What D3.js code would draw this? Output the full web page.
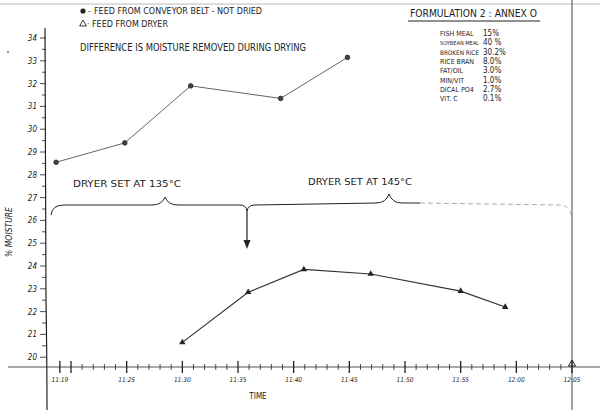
<!DOCTYPE html>
<html><head><meta charset="utf-8">
<script src="https://cdn.jsdelivr.net/npm/d3@7"></script>
<style>
html,body{margin:0;padding:0;background:#fff;}
svg text{font-family:"DejaVu Sans Condensed","DejaVu Sans",sans-serif;fill:#222;}
</style></head>
<body>
<svg id="c" width="600" height="410"></svg>
<script>
// ---- data ----
const timeTickLabels = ["11:19","11:25","11:30","11:35","11:40","11:45","11:50","11:55","12:00","12:05"];
const yTickValues = [20,21,22,23,24,25,26,27,28,29,30,31,32,33,34];
const conveyorTimes = ["11:18:40","11:24:50","11:30:45","11:38:50","11:44:50"];
const conveyorMoisture = [28.55, 29.4, 31.9, 31.35, 33.15];
const dryerTimes = ["11:30:00","11:35:55","11:40:55","11:46:55","11:55:00","11:59:00"];
const dryerMoisture = [20.65, 22.85, 23.85, 23.65, 22.9, 22.2];
const formulaNames = ["FISH MEAL","SOYBEAN MEAL","BROKEN RICE","RICE BRAN","FAT/OIL","MIN/VIT","DICAL PO4","VIT. C"];
const formulaValues = ["15%","40 %","30.2%","8.0%","3.0%","1.0%","2.7%","0.1%"];
const legendLabels = ["FEED FROM CONVEYOR BELT - NOT DRIED","FEED FROM DRYER"];

// ---- scales ----
const parseT = d3.timeParse("%H:%M:%S");
const parseHM = d3.timeParse("%H:%M");
const x = d3.scaleTime().domain([parseHM("11:20"), parseHM("12:05")]).range([71, 572]);
const y = d3.scaleLinear().domain([20, 34]).range([357.2, 38]);
const svg = d3.select("#c");
const ink = "#222";

// scan edge at top
svg.append("line").attr("x1",0).attr("x2",600).attr("y1",4).attr("y2",4)
  .attr("stroke","#bbb").attr("stroke-width",1);
svg.append("circle").attr("cx",8).attr("cy",52).attr("r",0.9).attr("fill","#555");

// right vertical line at 12:05
svg.append("line").attr("x1",x(parseHM("12:05"))).attr("x2",x(parseHM("12:05")))
  .attr("y1",0).attr("y2",410).attr("stroke","#444").attr("stroke-width",1);

// x axis line
const axisY = 367;
svg.append("line").attr("x1",8).attr("x2",600).attr("y1",axisY).attr("y2",axisY)
  .attr("stroke","#555").attr("stroke-width",1);
const isMajor = d => d.getMinutes()%5===0 || d.getMinutes()===19;
const minutes = d3.timeMinute.range(parseHM("11:19"), parseHM("12:06"));
svg.selectAll("line.mt").data(minutes).join("line").attr("class","mt")
  .attr("x1",d=>x(d)).attr("x2",d=>x(d))
  .attr("y1",d=>isMajor(d)?361:364)
  .attr("y2",d=>isMajor(d)?373:370)
  .attr("stroke",ink).attr("stroke-width",d=>isMajor(d)?1.3:0.8);
svg.selectAll("text.xl").data(timeTickLabels).join("text").attr("class","xl")
  .attr("x",d=>x(parseHM(d))).attr("y",382).attr("text-anchor","middle")
  .attr("font-size",6.5).attr("font-style","italic").text(d=>d);
svg.append("path").attr("d",d3.symbol(d3.symbolTriangle,22)())
  .attr("transform",`translate(${x(parseHM("12:05"))},${axisY-3})`)
  .attr("fill","none").attr("stroke",ink).attr("stroke-width",1);

// y axis
svg.append("path").attr("d","M45,28 Q46,200 46,300 Q47,360 47,410")
  .attr("fill","none").attr("stroke",ink).attr("stroke-width",1.2);
const halfTicks = d3.range(20, 34.01, 0.5);
svg.selectAll("line.yt").data(halfTicks).join("line").attr("class","yt")
  .attr("x1",d=>Number.isInteger(d)?40:42).attr("x2",46)
  .attr("y1",d=>y(d)).attr("y2",d=>y(d)).attr("stroke",ink).attr("stroke-width",0.8);
svg.selectAll("text.yl").data(yTickValues).join("text").attr("class","yl")
  .attr("x",37).attr("y",d=>y(d)+3).attr("text-anchor","end")
  .attr("font-size",8).attr("font-style","italic").text(d=>d);

// axis titles
svg.append("text").attr("transform","translate(12,232) rotate(-90)").attr("text-anchor","middle")
  .attr("font-size",8.5).attr("font-style","italic").text("% MOISTURE");
svg.append("text").attr("x",258).attr("y",399).attr("text-anchor","middle")
  .attr("font-size",8).text("TIME");

// brace annotation
svg.append("path")
  .attr("d","M51,215 Q52,205 64,205 L152,205 Q162,205 165,197 Q168,205 178,205 L240,205 Q246,205 247,211 Q248,205 255,205 L376,203 Q386,203 389,194 Q392,203 402,203 L420,203")
  .attr("fill","none").attr("stroke",ink).attr("stroke-width",1);
svg.append("path").attr("d","M420,203 L560,205 Q570,206 571,215")
  .attr("fill","none").attr("stroke","#999").attr("stroke-width",0.8).attr("stroke-dasharray","5,3");
svg.append("line").attr("x1",247).attr("x2",247).attr("y1",211).attr("y2",246)
  .attr("stroke",ink).attr("stroke-width",1.2);
svg.append("path").attr("d","M243.5,240 L247,249 L250.5,240 Z").attr("fill",ink);
svg.append("text").attr("x",73).attr("y",187).attr("font-size",9.5)
  .attr("textLength",108).attr("lengthAdjust","spacingAndGlyphs").text("DRYER SET AT 135°C");
svg.append("text").attr("x",308).attr("y",185).attr("font-size",9.5)
  .attr("textLength",104).attr("lengthAdjust","spacingAndGlyphs").text("DRYER SET AT 145°C");

// legend
svg.append("circle").attr("cx",83).attr("cy",11).attr("r",2.6).attr("fill",ink);
svg.append("text").attr("x",88).attr("y",14).attr("font-size",8).text("-");
svg.append("text").attr("x",94).attr("y",14).attr("font-size",8)
  .attr("textLength",168).attr("lengthAdjust","spacingAndGlyphs").text(legendLabels[0]);
svg.append("path").attr("d",d3.symbol(d3.symbolTriangle,20)())
  .attr("transform","translate(83,24)").attr("fill","none").attr("stroke",ink).attr("stroke-width",0.9);
svg.append("text").attr("x",87).attr("y",27).attr("font-size",8).text("·");
svg.append("text").attr("x",92).attr("y",27).attr("font-size",8)
  .attr("textLength",76).attr("lengthAdjust","spacingAndGlyphs").text(legendLabels[1]);
svg.append("text").attr("x",80).attr("y",51).attr("font-size",10)
  .attr("textLength",226).attr("lengthAdjust","spacingAndGlyphs").text("DIFFERENCE IS MOISTURE REMOVED DURING DRYING");

// formulation box
svg.append("text").attr("x",410).attr("y",17).attr("font-size",10.5)
  .attr("textLength",127).attr("lengthAdjust","spacingAndGlyphs").text("FORMULATION 2 : ANNEX O");
svg.append("line").attr("x1",408).attr("x2",540).attr("y1",21).attr("y2",21)
  .attr("stroke",ink).attr("stroke-width",1);
const nameMax = 39;
svg.selectAll("text.fn").data(formulaNames).join("text").attr("class","fn")
  .attr("x",440).attr("y",(d,i)=>36+i*9.3).attr("font-size",7).text(d=>d)
  .each(function(){ const w=this.getComputedTextLength(); if(w>nameMax){ d3.select(this).attr("font-size",7*nameMax/w); } });
svg.selectAll("text.fv").data(formulaValues).join("text").attr("class","fv")
  .attr("x",483).attr("y",(d,i)=>36+i*9.3).attr("font-size",8).text(d=>d);

// series
const conv = conveyorTimes.map((t,i)=>({t:parseT(t), v:conveyorMoisture[i]}));
const dry = dryerTimes.map((t,i)=>({t:parseT(t), v:dryerMoisture[i]}));
const line = d3.line().x(d=>x(d.t)).y(d=>y(d.v));
svg.append("path").datum(conv).attr("d",line).attr("fill","none")
  .attr("stroke","#666").attr("stroke-width",1);
svg.append("path").datum(dry).attr("d",line).attr("fill","none")
  .attr("stroke","#333").attr("stroke-width",1.2);
svg.selectAll("circle.cv").data(conv).join("circle").attr("class","cv")
  .attr("cx",d=>x(d.t)).attr("cy",d=>y(d.v)).attr("r",2.3)
  .attr("fill","#444").attr("stroke",ink).attr("stroke-width",0.8);
svg.selectAll("path.dr").data(dry).join("path").attr("class","dr")
  .attr("d",d3.symbol(d3.symbolTriangle,18)())
  .attr("transform",d=>`translate(${x(d.t)},${y(d.v)})`).attr("fill",ink);
</script>
</body></html>
